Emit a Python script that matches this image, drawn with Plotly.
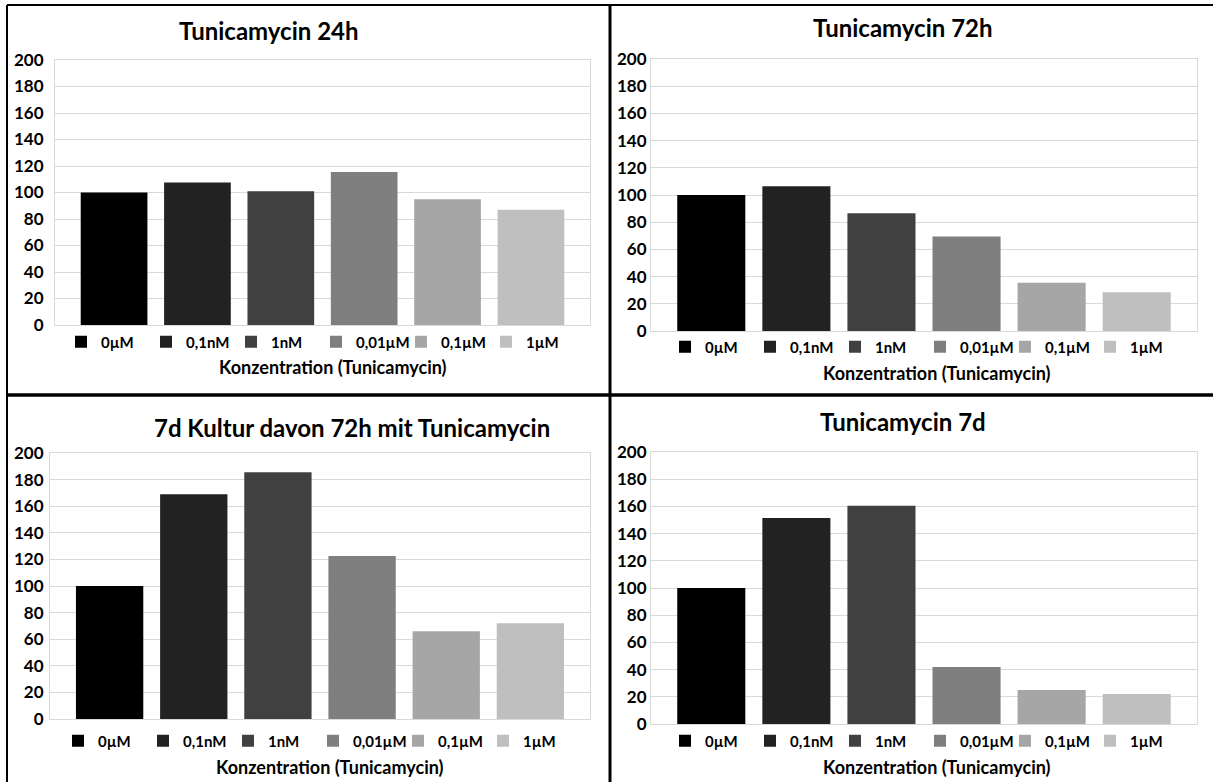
import plotly.graph_objects as go

# Concentrations (one bar / legend entry each) and their fill colours
concentrations = ["0µM", "0,1nM", "1nM", "0,01µM", "0,1µM", "1µM"]
bar_colors = ["#000000", "#222222", "#404040", "#7f7f7f", "#a6a6a6", "#bfbfbf"]

# Relative values (%) per experiment
vals_24h = [100, 107.5, 101, 115.5, 95, 87]
vals_72h = [100, 106.5, 86.5, 69.5, 35.5, 28.5]
vals_7d_72h = [100, 169, 185.5, 122.5, 66, 72]
vals_7d = [100, 151.5, 160.5, 42, 25, 22]

panel_titles = ["Tunicamycin 24h", "Tunicamycin 72h",
                "7d Kultur davon 72h mit Tunicamycin", "Tunicamycin 7d"]
x_title = "Konzentration (Tunicamycin)"
y_ticks = list(range(0, 201, 20))

W, H = 1213, 782
FONT = "Lato"


def fx(px):
    return px / W


def fy(py):
    return 1 - py / H


# pixel layout of each panel: plot box, title, legend, axis-title positions
panels = [
    dict(vals=vals_24h, box=(55, 590, 60, 325), title=(269, 31),
         legend=(61, 342), xt=(333, 367), standoff=7),
    dict(vals=vals_72h, box=(651, 1197, 59, 331), title=(903, 28),
         legend=(665, 347), xt=(937, 373), standoff=0),
    dict(vals=vals_7d_72h, box=(50, 590, 453, 719), title=(352, 427),
         legend=(58, 741), xt=(330, 767), standoff=2),
    dict(vals=vals_7d, box=(651, 1197, 452, 724), title=(903, 422),
         legend=(665, 741), xt=(937, 767), standoff=0),
]

fig = go.Figure()
annotations = []
layout_extra = {}

for i, p in enumerate(panels):
    n = "" if i == 0 else str(i + 1)
    leg = "legend" + n
    for name, color, v in zip(concentrations, bar_colors, p["vals"]):
        fig.add_trace(go.Bar(
            x=[""], y=[v], name=name,
            marker=dict(color=color, line=dict(width=0)),
            xaxis="x" + n, yaxis="y" + n, legend=leg,
            hoverinfo="name+y",
        ))
    x0, x1, y0, y1 = p["box"]
    layout_extra["xaxis" + n] = dict(
        domain=[fx(x0), fx(x1)], anchor="y" + n, automargin=False,
        showticklabels=False, ticks="", showgrid=False,
        showline=True, linecolor="#d9d9d9", linewidth=1, mirror=True,
        fixedrange=True,
    )
    layout_extra["yaxis" + n] = dict(
        domain=[fy(y1), fy(y0)], anchor="x" + n, automargin=False,
        range=[0, 200], tickvals=y_ticks,
        showgrid=True, gridcolor="#d9d9d9", gridwidth=1,
        zeroline=False, showline=True, linecolor="#d9d9d9",
        linewidth=1, mirror=True, ticks="", ticklen=0,
        ticklabelstandoff=p["standoff"],
        tickfont=dict(family=FONT, size=17, color="#000000", weight="bold"),
        fixedrange=True,
    )
    lx, ly = p["legend"]
    layout_extra[leg] = dict(
        orientation="h", x=fx(lx), y=fy(ly), xanchor="left",
        yanchor="middle", xref="paper", yref="paper",
        bgcolor="rgba(0,0,0,0)", entrywidth=40, entrywidthmode="pixels",
        itemclick=False, itemdoubleclick=False, traceorder="normal",
        font=dict(family=FONT, size=15, color="#000000", weight="bold"),
    )
    tx, ty = p["title"]
    annotations.append(dict(
        text=panel_titles[i], x=fx(tx), y=fy(ty), xref="paper", yref="paper",
        xanchor="center", yanchor="middle", showarrow=False,
        font=dict(family=FONT, size=24, color="#000000", weight="bold"),
    ))
    ax, ay = p["xt"]
    annotations.append(dict(
        text=x_title, x=fx(ax), y=fy(ay), xref="paper", yref="paper",
        xanchor="center", yanchor="middle", showarrow=False,
        font=dict(family=FONT, size=18, color="#000000", weight="bold"),
    ))

# panel frames: outer top/left edges and thick dividers
shapes = [
    dict(type="line", xref="paper", yref="paper", x0=fx(7), x1=1,
         y0=fy(5), y1=fy(5), line=dict(color="#000000", width=2)),
    dict(type="line", xref="paper", yref="paper", x0=fx(7), x1=fx(7),
         y0=fy(5), y1=0, line=dict(color="#000000", width=2)),
    dict(type="line", xref="paper", yref="paper", x0=fx(610), x1=fx(610),
         y0=fy(5), y1=0, line=dict(color="#000000", width=3)),
    dict(type="line", xref="paper", yref="paper", x0=fx(7), x1=1,
         y0=fy(395), y1=fy(395), line=dict(color="#000000", width=3.5)),
]

fig.update_layout(
    width=W, height=H,
    margin=dict(l=0, r=0, t=0, b=0, autoexpand=False),
    paper_bgcolor="#ffffff", plot_bgcolor="#ffffff",
    barmode="group", bargap=0.065, bargroupgap=0.2,
    annotations=annotations, shapes=shapes,
    font=dict(family=FONT, color="#000000"),
    **layout_extra,
)

fig.write_html("out.html")
